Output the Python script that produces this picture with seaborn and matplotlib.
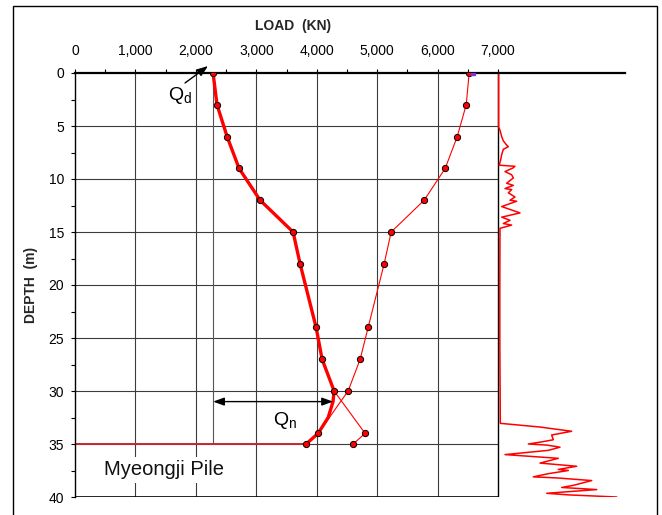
import matplotlib
matplotlib.use("Agg")
import matplotlib.pyplot as plt
import seaborn as sns
from matplotlib.patches import Rectangle
from matplotlib.ticker import FixedLocator

# Load in the pile (kN) at each gauge level (m)
depth = [0, 3, 6, 9, 12, 15, 18, 24, 27, 30, 34, 35]
load_dragload = [2285, 2350, 2517, 2715, 3063, 3609, 3725, 3990, 4089, 4288, 4801, 4603]
load_head = [6523, 6474, 6325, 6126, 5778, 5232, 5116, 4851, 4719, 4520, 4023, 3825]

# Smoothed load curve through the neutral-plane zone down to the toe
curve_depth = [30, 31, 32.5, 34, 35]
curve_load = [4288, 4270, 4190, 4023, 3825]

pile_toe = 35
dead_load = 2285
qn_depth = 31
qn_end = 4270

# Cone trace plotted against the 7,000 kN edge
trace_base = 7000
trace_depth = [0, 5.1, 5.4, 6.0, 6.4, 6.8, 6.95, 7.2, 7.7, 8.3, 8.7, 8.8, 8.95, 9.3,
               9.6, 9.9, 10.4, 10.6, 10.9, 11.0, 11.3, 11.7, 12.0, 12.1, 12.6, 13.2,
               13.6, 13.9, 14.2, 14.35, 14.65, 15.1, 20, 25, 30, 33.05, 33.4, 33.8,
               34.15, 34.6, 34.8, 35.0, 35.1, 35.3, 35.6, 36.0, 36.35, 36.8, 37.1,
               37.4, 37.5, 37.8, 38.1, 38.2, 38.45, 38.9, 39.1, 39.3, 39.65, 39.8, 40.0]
trace_value = [10, 10, 33, 61, 88, 143, 171, 88, 61, 40, 20, 280, 250, 116, 226, 254,
               143, 254, 116, 226, 171, 281, 199, 309, 61, 364, 61, 199, 88, 226, 33,
               33, 30, 30, 35, 38, 695, 1219, 888, 916, 723, 502, 806, 1026, 832, 116,
               998, 695, 1302, 998, 1164, 832, 584, 971, 1551, 1247, 1054, 1634, 806,
               1164, 1964]

x_ticks = [0, 1000, 2000, 3000, 4000, 5000, 6000, 7000]
x_tick_labels = ["0", "1,000", "2,000", "3,000", "4,000", "5,000", "6,000", "7,000"]
y_ticks = [0, 5, 10, 15, 20, 25, 30, 35, 40]

sns.set_theme(style="white")
plt.rcParams["font.family"] = ["Liberation Sans", "DejaVu Sans"]
plt.rcParams["mathtext.fontset"] = "custom"
plt.rcParams["mathtext.rm"] = "Liberation Sans"
plt.rcParams["mathtext.it"] = "Liberation Sans"

fig = plt.figure(figsize=(6.62, 5.15), dpi=100)
ax = fig.add_axes([75 / 662, 18 / 515, 549.9 / 662, 424 / 515])
ax.set_xlim(0, 9100)
ax.set_ylim(40, 0)

grid_kw = dict(color="#3c3c3c", linewidth=0.8, zorder=1)
ax.vlines(x_ticks[1:-1], 0, 40, **grid_kw)
ax.hlines(y_ticks[1:-1], 0, 7000, **grid_kw)
ax.vlines([dead_load], 0, pile_toe, color="#555555", linewidth=0.8, zorder=1)
ax.vlines([7000], 0, 40, color="black", linewidth=1.0, zorder=1.5)
ax.hlines([40], 0, 7000, color="black", linewidth=1.2, zorder=1.5)
ax.hlines([pile_toe], 0, load_head[-1], color="#c8282d", linewidth=1.4, zorder=2)

# cone trace
sns.lineplot(x=[trace_base + v for v in trace_value], y=trace_depth, sort=False,
             estimator=None, color="red", linewidth=1.1, ax=ax, zorder=2)

# thick load-distribution line
sns.lineplot(x=load_dragload[:10], y=depth[:10], sort=False, estimator=None,
             color="red", linewidth=2.4, ax=ax, zorder=3)
sns.lineplot(x=curve_load, y=curve_depth, sort=False, estimator=None,
             color="red", linewidth=2.4, ax=ax, zorder=3)

# measured points
mk = dict(marker="o", markersize=4.5, markeredgecolor="black",
          markeredgewidth=0.7, markerfacecolor="red")
sns.lineplot(x=load_dragload, y=depth, sort=False, estimator=None, color="red",
             linewidth=0.8, ax=ax, zorder=4, **mk)
sns.lineplot(x=load_head, y=depth, sort=False, estimator=None, color="red",
             linewidth=0.8, ax=ax, zorder=4, **mk)
ax.plot([6590], [0], marker="s", markersize=2.5, color="#8a2be2", zorder=4)

# annotations
ax.annotate("", xy=(qn_end, qn_depth), xytext=(dead_load, qn_depth),
            arrowprops=dict(arrowstyle="<|-|>,head_length=0.55,head_width=0.2",
                            color="black", lw=1.0, shrinkA=0, shrinkB=0), zorder=5)
ax.annotate("", xy=(2202, -0.66), xytext=(1821, 0.94), annotation_clip=False,
            arrowprops=dict(arrowstyle="-|>,head_length=0.55,head_width=0.2",
                            color="black", lw=1.0, shrinkA=0, shrinkB=0), zorder=5)
ax.text(1533, 2.5, r"Q$_{\mathrm{d}}$", fontsize=14, ha="left", va="baseline",
        color="black", zorder=5)
ax.text(3270, 33.2, r"Q$_{\mathrm{n}}$", fontsize=14, ha="left", va="baseline",
        color="black", zorder=5)
ax.text(1473, 37.45, "Myeongji Pile", fontsize=14.5, ha="center", va="center",
        color="#111111", zorder=5,
        bbox=dict(facecolor="white", edgecolor="none", pad=2.5))

# axes styling
for side in ["right", "bottom"]:
    ax.spines[side].set_visible(False)
ax.spines["top"].set_linewidth(1.6)
ax.spines["top"].set_color("black")
ax.spines["left"].set_linewidth(1.0)
ax.spines["left"].set_color("black")

ax.xaxis.tick_top()
ax.set_xticks(x_ticks)
ax.set_xticklabels(x_tick_labels)
ax.xaxis.set_minor_locator(FixedLocator([500, 1500, 2500, 3500, 4500, 5500, 6500]))
ax.set_yticks(y_ticks)
ax.set_yticklabels([str(v) for v in y_ticks])
ax.yaxis.set_minor_locator(FixedLocator([2.5 + 5 * i for i in range(8)]))
ax.tick_params(axis="x", which="both", direction="out", length=3, width=0.8,
               color="black", labelsize=10, pad=8, top=True, bottom=False,
               labeltop=True, labelbottom=False, labelcolor="black")
ax.tick_params(axis="y", which="both", direction="out", length=3, width=0.8,
               color="black", labelsize=10, pad=5, left=True, labelcolor="black")
ax.set_xlabel("")
ax.set_ylabel("")

fig.text(293 / 662, 1 - 26 / 515, "LOAD  (KN)", fontsize=10, fontweight="bold",
         ha="center", va="center")
fig.text(31 / 662, 1 - 285 / 515, "DEPTH  (m)", fontsize=10, fontweight="bold",
         ha="center", va="center", rotation=90)

fig.patches.append(Rectangle((13 / 662, -0.02), 644 / 662, 1 - 6 / 515 + 0.02,
                             transform=fig.transFigure, fill=False,
                             edgecolor="black", linewidth=1.0))

fig.savefig("out.png", dpi=100)
